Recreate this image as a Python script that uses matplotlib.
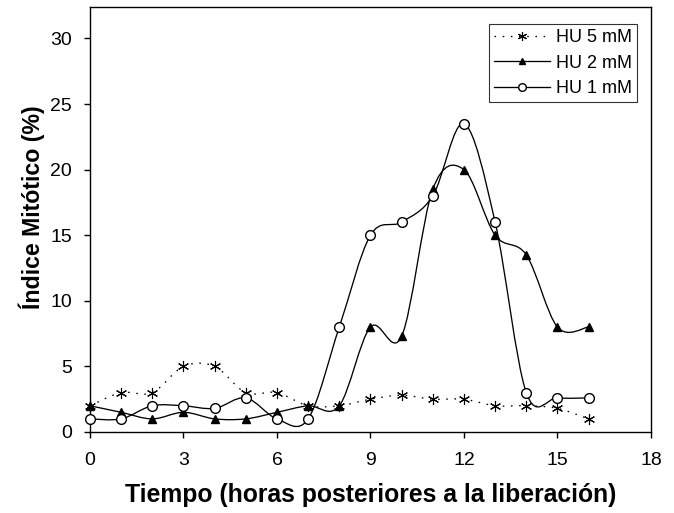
import matplotlib
matplotlib.use("Agg")
import matplotlib.pyplot as plt
import numpy as np
from matplotlib.path import Path
from matplotlib.patches import PathPatch
from matplotlib.lines import Line2D

plt.rcParams['font.family'] = ['Liberation Sans', 'DejaVu Sans']

tiempo = [0, 1, 2, 3, 4, 5, 6, 7, 8, 9, 10, 11, 12, 13, 14, 15, 16]
hu5 = [2, 3, 3, 5, 5, 3, 3, 2, 2, 2.5, 2.8, 2.5, 2.5, 2, 2, 1.8, 1]
hu2 = [2, 1.5, 1, 1.5, 1, 1, 1.5, 2, 2, 8, 7.3, 18.5, 20, 15, 13.5, 8, 8]
hu1 = [1, 1, 2, 2, 1.8, 2.6, 1, 1, 8, 15, 16, 18, 23.5, 16, 3, 2.6, 2.6]
labels = ['HU 5 mM', 'HU 2 mM', 'HU 1 mM']
xticks = [0, 3, 6, 9, 12, 15, 18]
yticks = [0, 5, 10, 15, 20, 25, 30]


def smooth_path(x, y):
    p = np.column_stack([x, y]).astype(float)
    n = len(p)
    verts = [p[0]]
    codes = [Path.MOVETO]
    for i in range(n - 1):
        p0 = p[i - 1] if i > 0 else p[i]
        p1 = p[i]
        p2 = p[i + 1]
        p3 = p[i + 2] if i + 2 < n else p[i + 1]
        c1 = p1 + (p2 - p0) / 6.0
        c2 = p2 - (p3 - p1) / 6.0
        verts += [c1, c2, p2]
        codes += [Path.CURVE4] * 3
    return Path(verts, codes)


fig = plt.figure(figsize=(6.74, 5.13), dpi=100)
ax = fig.add_axes([0.1335, 0.1579, 0.8323, 0.8285])

styles = [
    dict(series=hu5, ls=(0, (1.2, 5)), marker=(6, 2, 0), mfc='black', ms=8, mew=0.8, lms=6.5),
    dict(series=hu2, ls='-', marker='^', mfc='black', ms=6, mew=1.0, lms=5),
    dict(series=hu1, ls='-', marker='o', mfc='white', ms=7, mew=1.0, lms=5.5),
]
handles = []
for st, lab in zip(styles, labels):
    pth = smooth_path(tiempo, st['series'])
    ax.add_patch(PathPatch(pth, facecolor='none', edgecolor='black',
                           lw=0.95, linestyle=st['ls'], zorder=2))
    ax.plot(tiempo, st['series'], linestyle='none', marker=st['marker'],
            mfc=st['mfc'], mec='black', ms=st['ms'], mew=st['mew'], zorder=3,
            clip_on=False)
    handles.append(Line2D([], [], color='black', lw=0.95, linestyle=st['ls'],
                          marker=st['marker'], mfc=st['mfc'], mec='black',
                          ms=st['lms'], mew=st['mew']))

ax.set_xlim(0, 18)
ax.set_ylim(0, 32.4)
ax.set_xticks(xticks)
ax.set_yticks(yticks)
ax.tick_params(direction='out', length=4.3, width=1, labelsize=14)
ax.tick_params(axis='x', pad=10)
ax.tick_params(axis='y', pad=8.5)
for s in ax.spines.values():
    s.set_linewidth(1.0)

ax.set_xlabel('Tiempo (horas posteriores a la liberación)', fontsize=17.8,
              fontweight='bold')
ax.set_ylabel('Índice Mitótico (%)', fontsize=16.7, fontweight='bold')
ax.xaxis.set_label_coords(0.5, -0.12)
ax.yaxis.set_label_coords(-0.080, 0.528)

leg = ax.legend(handles, labels, loc='upper right', bbox_to_anchor=(0.975, 0.96),
                fontsize=13, frameon=True, fancybox=False, handlelength=3.05,
                handletextpad=0.35, borderpad=0.28, labelspacing=0.48,
                borderaxespad=0.0)
leg.get_frame().set_edgecolor('black')
leg.get_frame().set_linewidth(0.8)

fig.savefig('out.png', dpi=100)
